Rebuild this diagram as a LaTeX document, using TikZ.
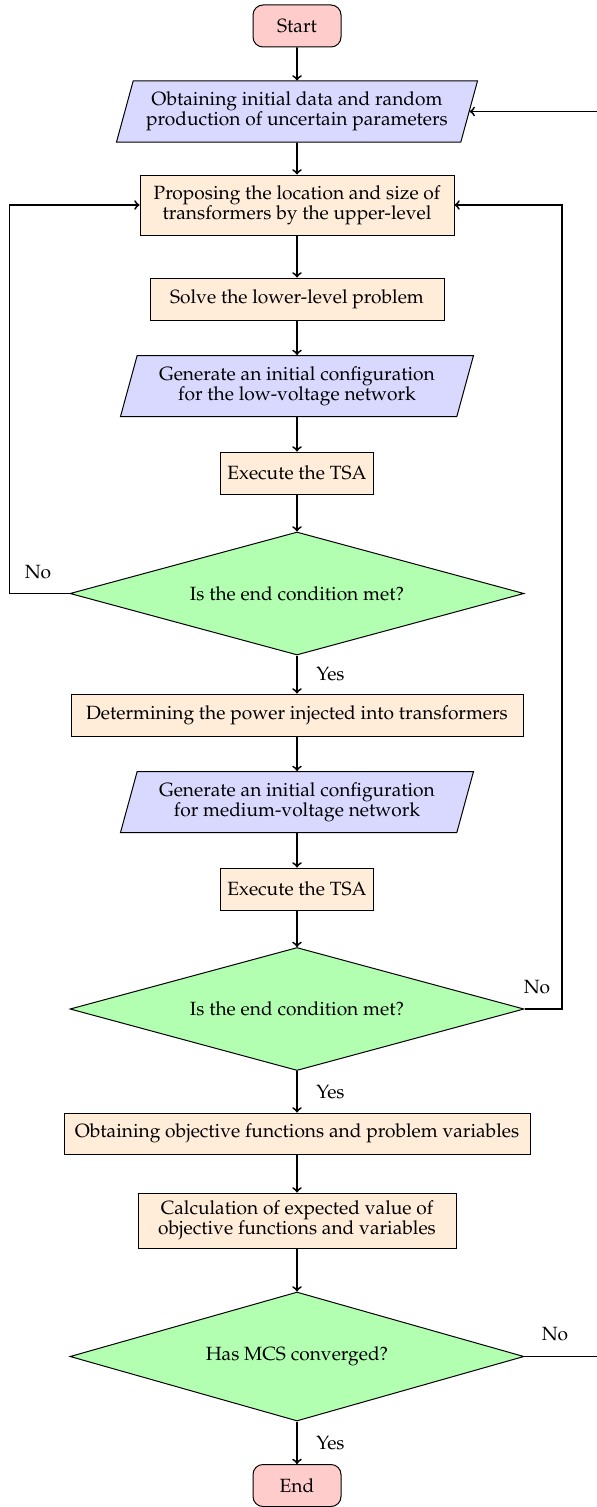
\documentclass[tikz,border=0pt]{standalone}
\usepackage[T1]{fontenc}
\usepackage{mathpazo}
\usetikzlibrary{shapes.geometric}

\begin{document}
\begin{tikzpicture}[x=0.6pt,y=-0.6pt,
  every node/.style={font=\fontsize{11.5}{12}\selectfont},
  base/.style={draw=black, line width=0.6pt, align=center, inner sep=0pt},
  termbox/.style={base, rectangle, rounded corners=6pt, fill=red!20,
    minimum width=52.8pt, minimum height=25.2pt},
  iobox/.style={base, trapezium, trapezium left angle=67, trapezium right angle=113,
    trapezium stretches body=true, fill=blue!15, minimum height=36.6pt},
  procbox/.style={base, rectangle, fill=orange!15, inner xsep=4pt},
  decbox/.style={base, diamond, aspect=3.7, fill=green!30,
    minimum width=272.4pt, minimum height=73.8pt},
  arr/.style={->, line width=1.1pt},
  lbl/.style={inner sep=0pt}]

\useasboundingbox (0,0) rectangle (596,1507);

% main column
\node[termbox] (start) at (297,26) {Start};
\node[iobox, minimum width=216.6pt] (in1) at (297,111.5)
  {Obtaining initial data and random\\production of uncertain parameters};
\node[procbox, minimum width=188.4pt, minimum height=36pt] (up) at (297,205)
  {Proposing the location and size of\\transformers by the upper-level};
\node[procbox, minimum width=176.4pt, minimum height=25.2pt] (low) at (297,299)
  {Solve the lower-level problem};
\node[iobox, minimum width=211.8pt] (in2) at (297,386)
  {Generate an initial configuration\\for the low-voltage network};
\node[procbox, minimum width=87.6pt, minimum height=25.2pt] (tsa1) at (297,473)
  {Execute the TSA};
\node[decbox] (d1) at (297,593.5) {Is the end condition met?};
\node[procbox, minimum width=271.2pt, minimum height=25.2pt] (pow) at (297,715)
  {Determining the power injected into transformers};
\node[iobox, minimum width=211.8pt] (in3) at (297,802)
  {Generate an initial configuration\\for medium-voltage network};
\node[procbox, minimum width=87.6pt, minimum height=25.2pt] (tsa2) at (297,889)
  {Execute the TSA};
\node[decbox] (d2) at (297,1009) {Is the end condition met?};
\node[procbox, minimum width=279.6pt, minimum height=24.6pt] (obj) at (297,1133.5)
  {Obtaining objective functions and problem variables};
\node[procbox, minimum width=190.8pt, minimum height=33pt] (calc) at (297,1220.5)
  {Calculation of expected value of\\objective functions and variables};
\node[decbox, minimum height=77.4pt] (d3) at (297,1356.5) {Has MCS converged?};
\node[termbox] (end) at (297,1485.5) {End};

% loop-back columns
\coordinate (lx) at (9.5,0);
\coordinate (rx) at (562,0);
\coordinate (ox) at (600,0);

% straight flow
\draw[arr] (start) -- (in1);
\draw[arr] (in1) -- (up);
\draw[arr] (up) -- (low);
\draw[arr] (low) -- (in2);
\draw[arr] (in2) -- (tsa1);
\draw[arr] (tsa1) -- (d1);
\draw[arr] (d1) -- node[lbl, right=11pt] {Yes} (pow);
\draw[arr] (pow) -- (in3);
\draw[arr] (in3) -- (tsa2);
\draw[arr] (tsa2) -- (d2);
\draw[arr] (d2) -- node[lbl, right=11pt] {Yes} (obj);
\draw[arr] (obj) -- (calc);
\draw[arr] (calc) -- (d3);
\draw[arr] (d3) -- node[lbl, right=11pt] {Yes} (end);

% feedback loops
\draw[arr] (d1.west) -- (d1.west -| lx) |- (up.west);
\node[lbl] (no1) at (38,572) {No};
\draw[arr] (d2.east) -- (d2.east -| rx) |- (up.east);
\node[lbl] (no2) at (537,987) {No};
\draw[arr] (d3.east) -- (d3.east -| ox) |- (in1.east);
\node[lbl] (no3) at (555,1334) {No};

\end{tikzpicture}
\end{document}
